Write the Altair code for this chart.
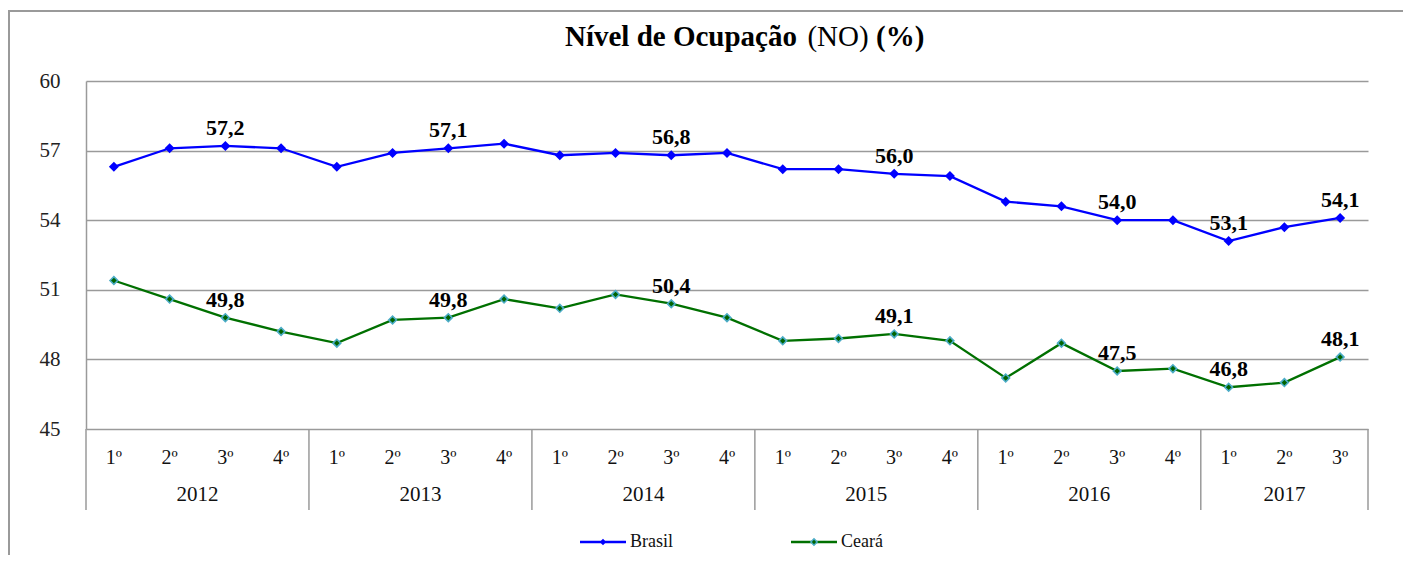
import altair as alt
import pandas as pd

# ---- data ----
years = ["2012", "2013", "2014", "2015", "2016", "2017"]
quarters_per_year = [4, 4, 4, 4, 4, 3]
quarter_names = ["1º", "2º", "3º", "4º"]
series_names = ["Brasil", "Ceará"]
brasil = [56.3, 57.1, 57.2, 57.1,
          56.3, 56.9, 57.1, 57.3,
          56.8, 56.9, 56.8, 56.9,
          56.2, 56.2, 56.0, 55.9,
          54.8, 54.6, 54.0, 54.0,
          53.1, 53.7, 54.1]
ceara = [51.4, 50.6, 49.8, 49.2,
         48.7, 49.7, 49.8, 50.6,
         50.2, 50.8, 50.4, 49.8,
         48.8, 48.9, 49.1, 48.8,
         47.2, 48.7, 47.5, 47.6,
         46.8, 47.0, 48.1]
labeled_idx = [2, 6, 10, 14, 18, 20, 22]
y_ticks = [45, 48, 51, 54, 57, 60]
title_parts = ["Nível de Ocupação", "(NO)", "(%)"]

# ---- build tables ----
rows = []
idx = 0
qrows = []
yrows = []
bounds = [-0.5]
for y, n in zip(years, quarters_per_year):
    start = idx
    for q in range(n):
        qrows.append({"idx": idx, "q": quarter_names[q]})
        for s, vals in zip(series_names, [brasil, ceara]):
            v = vals[idx]
            rows.append({"idx": idx, "year": y, "series": s, "value": v,
                         "label": f"{v:.1f}".replace(".", ","),
                         "show": idx in labeled_idx})
        idx += 1
    yrows.append({"year": y, "center": (start + idx - 1) / 2})
    bounds.append(idx - 0.5)

df = pd.DataFrame(rows)
qdf = pd.DataFrame(qrows)
ydf = pd.DataFrame(yrows)
bdf = pd.DataFrame({"b": bounds})
one = pd.DataFrame({"a": [0]})

W, H = 1282, 348
FONT = "'Liberation Serif', 'DejaVu Serif', serif"
GRID = "#9a9a9a"
colors = ["#0000ff", "#007000"]

xscale = alt.Scale(domain=[-0.5, len(brasil) - 0.5], nice=False, zero=False)
yscale = alt.Scale(domain=[45, 60], nice=False, zero=False)
X = alt.X("idx:Q", scale=xscale, axis=None)

lines = alt.Chart(df).mark_line(strokeWidth=2.3).encode(
    x=X,
    y=alt.Y("value:Q", scale=yscale, title=None,
            axis=alt.Axis(values=y_ticks, grid=True, gridColor=GRID, gridWidth=1.5,
                          domainColor=GRID, domainWidth=1.5, ticks=False,
                          labelPadding=26, labelFont=FONT, labelFontSize=21,
                          labelColor="#222")),
    color=alt.Color("series:N", scale=alt.Scale(domain=series_names, range=colors), legend=None),
    detail="series:N",
)

pts_b = alt.Chart(df[df.series == "Brasil"]).mark_point(
    shape="diamond", filled=True, size=100, color=colors[0], opacity=1
).encode(x=X, y=alt.Y("value:Q", scale=yscale))

pts_c = alt.Chart(df[df.series == "Ceará"]).mark_point(
    shape="diamond", size=60, fill="#006400", fillOpacity=1, stroke="#4bacc6",
    strokeWidth=1.6, opacity=1
).encode(x=X, y=alt.Y("value:Q", scale=yscale))

labels = alt.Chart(df[df.show]).mark_text(
    font=FONT, fontSize=22, fontWeight="bold", dy=-18, color="#000"
).encode(x=X, y=alt.Y("value:Q", scale=yscale), text="label:N")

qlabels = alt.Chart(qdf).mark_text(font=FONT, fontSize=20, color="#111").encode(
    x=X, y=alt.value(377), text="q:N")

ylabels = alt.Chart(ydf).mark_text(font=FONT, fontSize=21, color="#111").encode(
    x=alt.X("center:Q", scale=xscale, axis=None), y=alt.value(414), text="year:N")

seps = alt.Chart(bdf).mark_rule(color=GRID, strokeWidth=1.5).encode(
    x=alt.X("b:Q", scale=xscale, axis=None), y=alt.value(H), y2=alt.value(H + 81))

frame_left = alt.Chart(one).mark_rule(color=GRID, strokeWidth=2).encode(
    x=alt.value(-77), y=alt.value(-70), y2=alt.value(480))
frame_top = alt.Chart(one).mark_rule(color=GRID, strokeWidth=2).encode(
    x=alt.value(-78), x2=alt.value(W + 45), y=alt.value(-70))

t1 = alt.Chart(one).mark_text(font=FONT, fontSize=29, fontWeight="bold", color="#000",
                              align="right").encode(
    x=alt.value(711), y=alt.value(-44), text=alt.value(title_parts[0]))
t2 = alt.Chart(one).mark_text(font=FONT, fontSize=29, fontWeight="normal", color="#000",
                              align="center").encode(
    x=alt.value(752), y=alt.value(-44), text=alt.value(title_parts[1]))
t3 = alt.Chart(one).mark_text(font=FONT, fontSize=29, fontWeight="bold", color="#000",
                              align="left").encode(
    x=alt.value(790), y=alt.value(-44), text=alt.value(title_parts[2]))

legend_layers = []
legend_x = [494, 705]
for name, col, lx in zip(series_names, colors, legend_x):
    legend_layers.append(alt.Chart(one).mark_rule(color=col, strokeWidth=2.5).encode(
        x=alt.value(lx), x2=alt.value(lx + 46), y=alt.value(461)))
    if name == "Brasil":
        legend_layers.append(alt.Chart(one).mark_point(
            shape="diamond", filled=True, size=40, color=col, opacity=1).encode(
            x=alt.value(lx + 23), y=alt.value(461)))
    else:
        legend_layers.append(alt.Chart(one).mark_point(
            shape="diamond", size=40, fill="#006400", fillOpacity=1, stroke="#4bacc6",
            strokeWidth=1.5, opacity=1).encode(x=alt.value(lx + 23), y=alt.value(461)))
    legend_layers.append(alt.Chart(one).mark_text(
        font=FONT, fontSize=18, align="left", color="#111").encode(
        x=alt.value(lx + 50), y=alt.value(461), text=alt.value(name)))

chart = alt.layer(
    lines, pts_b, pts_c, labels, qlabels, ylabels, seps,
    frame_left, frame_top, t1, t2, t3, *legend_layers
).properties(
    width=W, height=H,
    autosize=alt.AutoSizeParams(type="none"),
    padding={"left": 78, "top": 73, "right": 35, "bottom": 126},
).configure_view(stroke=None)

chart.save("out.html", embed_options={"renderer": "svg", "actions": False})
